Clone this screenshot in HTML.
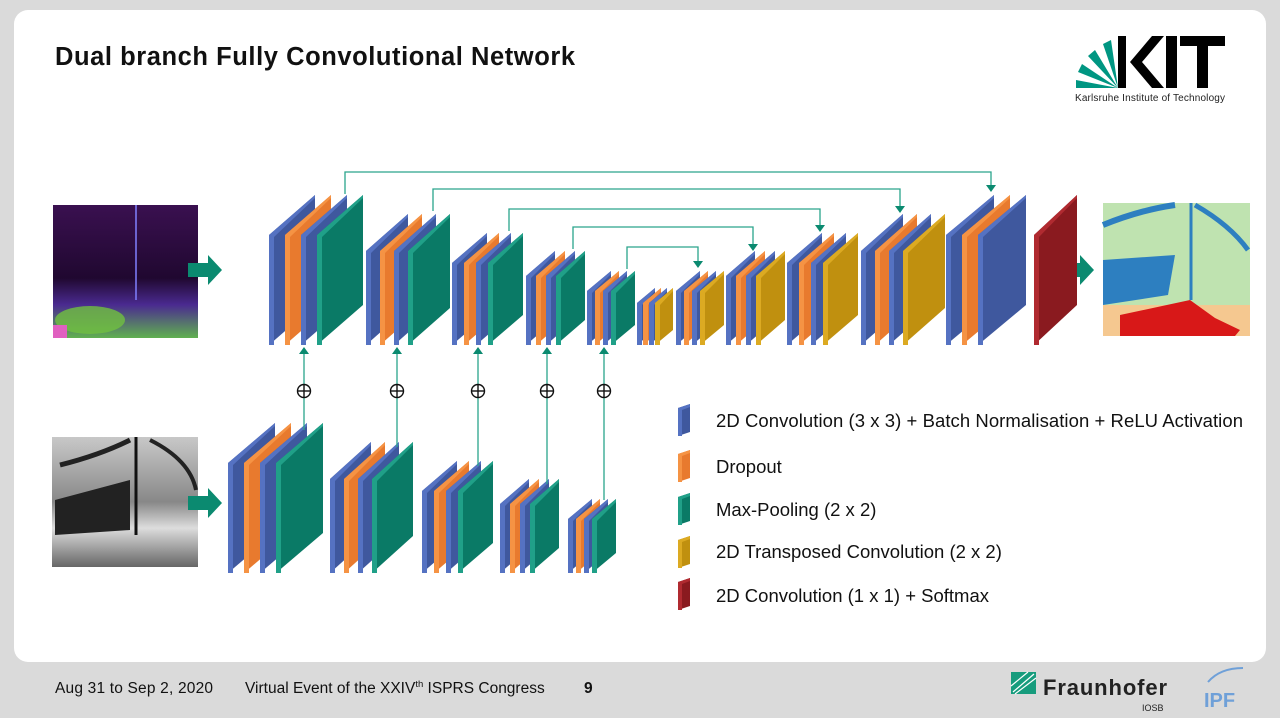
<!DOCTYPE html>
<html><head><meta charset="utf-8"><style>
html,body{margin:0;padding:0;background:#dadada;width:1280px;height:718px;overflow:hidden;font-family:"Liberation Sans",Arial,sans-serif}
.card{position:absolute;left:14px;top:10px;width:1252px;height:652px;background:#fff;border-radius:14px}
</style></head><body>
<div class="card"></div>
<svg id="s" width="1280" height="718" style="position:absolute;left:0;top:0" xmlns="http://www.w3.org/2000/svg">
<defs>
<linearGradient id="gp" x1="0" y1="0" x2="0" y2="1"><stop offset="0" stop-color="#3a1050"/><stop offset="0.55" stop-color="#200830"/><stop offset="0.75" stop-color="#4a2a90"/><stop offset="1" stop-color="#60b050"/></linearGradient>
<linearGradient id="gg" x1="0" y1="0" x2="0" y2="1"><stop offset="0" stop-color="#c8c8c8"/><stop offset="0.5" stop-color="#888"/><stop offset="0.7" stop-color="#ddd"/><stop offset="1" stop-color="#666"/></linearGradient>
</defs>
<text x="55" y="65" font-size="25.5" font-weight="bold" fill="#111" textLength="520">Dual branch Fully Convolutional Network</text>
<!-- KIT logo -->
<g>
<polygon points="1118,88 1076,88 1076,80" fill="#009682"/>
<polygon points="1118,88 1078,72 1082,64" fill="#009682"/>
<polygon points="1118,88 1088,56 1095,50" fill="#009682"/>
<polygon points="1118,88 1103,44 1111,40" fill="#009682"/>
<polygon points="1118,88 1118,36 1126,36 1126,88" fill="#000"/>
<polygon points="1130,62 1152,36 1164,36 1142,62 1164,88 1152,88" fill="#000"/>
<rect x="1166" y="36" width="11" height="52" fill="#000"/>
<rect x="1180" y="36" width="45" height="10" fill="#000"/>
<rect x="1197" y="36" width="11" height="52" fill="#000"/>
<text x="1075" y="101" font-size="10" fill="#222" textLength="150">Karlsruhe Institute of Technology</text>
</g>
<!-- input images -->
<rect x="53" y="205" width="145" height="133" fill="url(#gp)"/>
<line x1="136" y1="205" x2="136" y2="300" stroke="#8080ff" stroke-width="1.5"/>
<ellipse cx="90" cy="320" rx="35" ry="14" fill="#70c040" opacity="0.8"/>
<rect x="53" y="325" width="14" height="13" fill="#e060c0"/>
<rect x="52" y="437" width="146" height="130" fill="url(#gg)"/>
<path d="M55,500 L130,480 L130,530 L55,535 Z" fill="#222"/>
<line x1="136" y1="437" x2="136" y2="535" stroke="#111" stroke-width="3"/>
<path d="M60,465 Q100,455 130,440" stroke="#222" stroke-width="5" fill="none"/>
<path d="M150,440 Q190,460 196,490" stroke="#222" stroke-width="4" fill="none"/>
<!-- output image -->
<rect x="1103" y="203" width="147" height="133" fill="#bfe3b0"/>
<path d="M1103,260 L1175,255 L1168,295 L1103,305 Z" fill="#2d7fc0"/>
<path d="M1103,225 Q1140,210 1175,205" stroke="#2d7fc0" stroke-width="6" fill="none"/>
<path d="M1195,205 Q1230,225 1248,250" stroke="#2d7fc0" stroke-width="5" fill="none"/>
<line x1="1191" y1="203" x2="1191" y2="300" stroke="#2d7fc0" stroke-width="3"/>
<rect x="1103" y="305" width="147" height="31" fill="#f5c890"/>
<path d="M1120,315 L1190,300 L1215,318 L1240,330 L1235,336 L1120,336 Z" fill="#d81818"/>
<!-- arrows -->
<polygon points="188,263 208,263 208,255 222,270 208,285 208,277 188,277" fill="#0b8a70"/>
<polygon points="188,496 208,496 208,488 222,503 208,518 208,510 188,510" fill="#0b8a70"/>
<polygon points="1060,263 1080,263 1080,255 1094,270 1080,285 1080,277 1060,277" fill="#0b8a70"/>
<g id="net"></g>
<!-- legend -->
<g font-size="18.5" fill="#111">
<text x="716" y="427" textLength="527">2D Convolution (3 x 3) + Batch Normalisation + ReLU Activation</text>
<text x="716" y="473">Dropout</text>
<text x="716" y="516">Max-Pooling (2 x 2)</text>
<text x="716" y="558">2D Transposed Convolution (2 x 2)</text>
<text x="716" y="602">2D Convolution (1 x 1) + Softmax</text>
</g>
<!-- footer -->
<g font-size="15.5" fill="#111">
<text x="55" y="693" textLength="158">Aug 31 to Sep 2, 2020</text>
<text x="245" y="693">Virtual Event of the XXIV<tspan font-size="9.5" dy="-6">th</tspan><tspan dy="6"> ISPRS Congress</tspan></text>
<text x="584" y="693" font-weight="bold">9</text>
</g>
<polygon points="1011,672 1036,672 1036,694 1011,694" fill="#179c7d"/>
<path d="M1013,692 L1034,674 M1015,694 L1036,678 M1011,686 L1028,672" stroke="#fff" stroke-width="1.2"/>
<text x="1043" y="695" font-size="22" font-weight="bold" fill="#222" textLength="124">Fraunhofer</text>
<text x="1142" y="711" font-size="9" fill="#222">IOSB</text>
<path d="M1208,682 Q1220,668 1243,668" stroke="#6fa0d8" stroke-width="2" fill="none"/>
<text x="1204" y="707" font-size="20" fill="#6fa0d8" font-weight="bold">IPF</text>
</svg>
<script>
var C={b:["#3f589e","#5572c2"],o:["#e87a2e","#f59344"],t:["#0a7a66","#20a088"],y:["#c0900f","#dcaa22"],r:["#8a1a1f","#b02a30"]};
var out="";
function layer(x,yb,h,dx,dy,c,t){
 var f=C[c];t=t||5;
 out+='<polygon points="'+x+','+yb+' '+x+','+(yb-h)+' '+(x+dx)+','+(yb-h-dy)+' '+(x+dx)+','+(yb-dy)+'" fill="'+f[0]+'"/>';
 out+='<polygon points="'+x+','+yb+' '+x+','+(yb-h)+' '+(x+dx)+','+(yb-h-dy)+' '+(x+dx)+','+(yb-h-dy+3)+' '+(x+t)+','+(yb-h+2)+' '+(x+t)+','+yb+'" fill="'+f[1]+'"/>';
}
function grp(x0,yb,step,dx,dy,h,cols){for(var i=0;i<cols.length;i++)layer(x0+i*step,yb,h,dx,dy,cols[i]);}
var E=["b","o","b","t"],D=["b","o","b","y"];
grp(269,345,16,46,40,110,E);
grp(366,345,14,42,37,94,E);
grp(452,345,12,35,30,82,E);
grp(526,345,10,29,25,69,E);
grp(587,345,8,24,20,54,E);
grp(637,345,6,18,15,42,D);
grp(676,345,8,24,20,54,D);
grp(726,345,10,29,25,69,D);
grp(787,345,12,35,30,82,D);
grp(861,345,14,42,37,94,D);
grp(946,345,16,48,40,110,["b","o","b"]);
layer(1034,345,110,43,40,"r");
grp(228,573,16,47,40,110,E);
grp(330,573,14,41,37,94,E);
grp(422,573,12,35,30,82,E);
grp(500,573,10,29,25,69,E);
grp(568,573,8,24,20,54,E);
var L="#2aa58c",sk=[[345,172,991,192],[433,189,900,213],[509,209,820,232],[573,227,753,251],[627,247,698,268]];
sk.forEach(function(s){
 out+='<polyline points="'+s[0]+','+(s[1]+22)+' '+s[0]+','+s[1]+' '+s[2]+','+s[1]+' '+s[2]+','+(s[3]-5)+'" fill="none" stroke="'+L+'" stroke-width="1.3"/>';
 out+='<polygon points="'+(s[2]-5)+','+(s[3]-7)+' '+(s[2]+5)+','+(s[3]-7)+' '+s[2]+','+s[3]+'" fill="#0b8a70"/>';
});
var vc=[[304,430],[397,447],[478,466],[547,484],[604,500]];
vc.forEach(function(v){
 out+='<line x1="'+v[0]+'" y1="'+v[1]+'" x2="'+v[0]+'" y2="352" stroke="'+L+'" stroke-width="1.3"/>';
 out+='<polygon points="'+(v[0]-5)+',354 '+(v[0]+5)+',354 '+v[0]+',347" fill="#0b8a70"/>';
 out+='<circle cx="'+v[0]+'" cy="391" r="6.5" fill="#fff" stroke="#111" stroke-width="1.4"/>';
 out+='<line x1="'+(v[0]-6.5)+'" y1="391" x2="'+(v[0]+6.5)+'" y2="391" stroke="#111" stroke-width="1.4"/>';
 out+='<line x1="'+v[0]+'" y1="384.5" x2="'+v[0]+'" y2="397.5" stroke="#111" stroke-width="1.4"/>';
});
[["b",436],["o",482],["t",525],["y",568],["r",610]].forEach(function(l){layer(678,l[1],28,12,4,l[0],4);});
document.getElementById("net").innerHTML=out;
</script>
</body></html>
